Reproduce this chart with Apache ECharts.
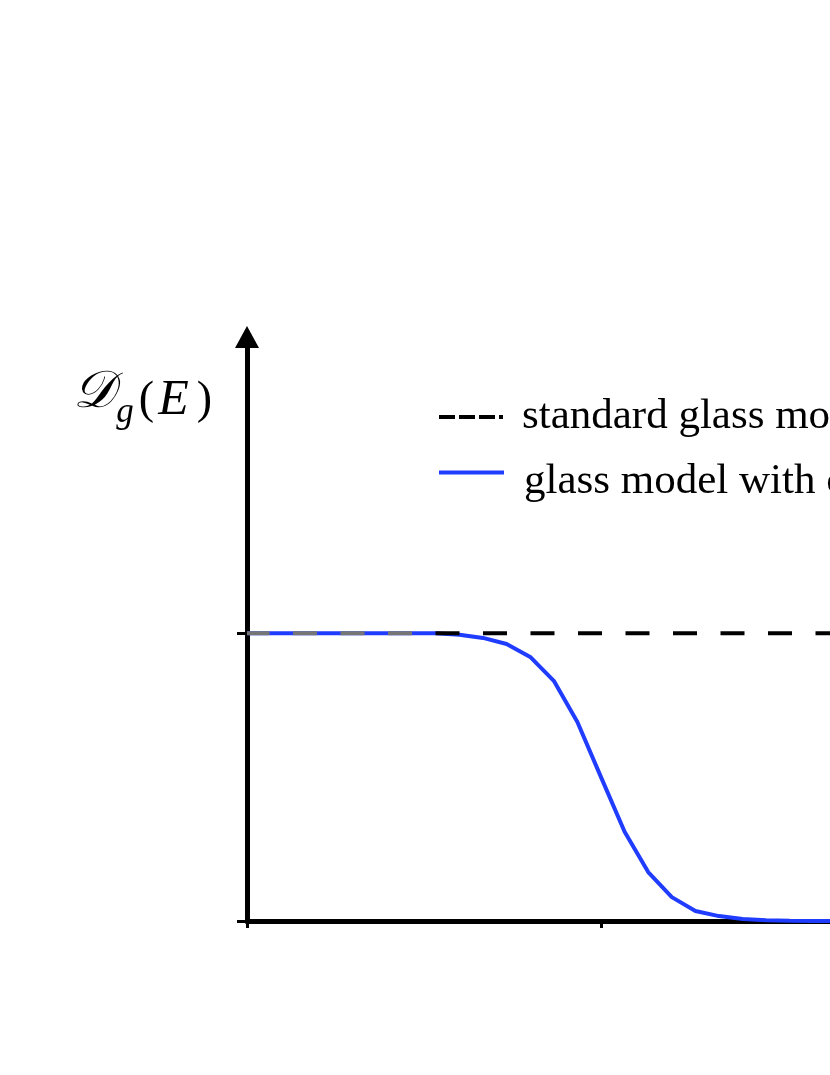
<!DOCTYPE html>
<html>
<head>
<meta charset="utf-8">
<script src="https://cdn.jsdelivr.net/npm/echarts@6/dist/echarts.min.js"></script>
<style>
html,body{margin:0;padding:0;background:#fff;overflow:hidden;width:830px;height:1075px;}
#chart{width:1100px;height:1075px;}
</style>
</head>
<body>
<div id="chart"></div>
<script>
// Energy grid (units where the tick at E = 1 marks the midpoint of the drop)
const energies = [0,0.0667,0.1333,0.2,0.2667,0.3333,0.4,0.4667,0.5333,0.6,0.6667,0.7333,0.8,0.8667,0.9333,1.0,1.0667,1.1333,1.2,1.2667,1.3333,1.4,1.4667,1.5333,1.6,1.6667,1.7333,1.8,1.8667,1.9333,2.0,2.0667,2.1333,2.2,2.25];
const glassWithCutoff = [1,1,1,1,1,1,1,1,1,0.995,0.984,0.963,0.918,0.835,0.692,0.5,0.31,0.17,0.083,0.035,0.017,0.007,0.003,0.001,0,0,0,0,0,0,0,0,0,0,0];
const standardGlassX = [0, 2.25];
const standardGlass = [1, 1];
const seriesNames = ['standard glass model', 'glass model with cutoff'];
const xTicks = [0, 1, 2];
const yTicks = [0, 1];

const chart = echarts.init(document.getElementById('chart'), null, {renderer: 'canvas'});
const serif = '"Liberation Serif", "DejaVu Serif", serif';
const BLUE = '#1f3cff';

const option = {
  animation: false,
  backgroundColor: '#fff',
  grid: {left: 247, right: 56.5, top: 337, bottom: 154},
  xAxis: {
    type: 'value', min: 0, max: 2.25,
    axisLine: {show: true, lineStyle: {color: '#000', width: 5}},
    axisTick: {show: true, customValues: xTicks, length: 7, lineStyle: {color: '#000', width: 3}},
    axisLabel: {show: false},
    splitLine: {show: false}
  },
  yAxis: {
    type: 'value', min: 0, max: 2.03,
    name: '{d|𝒟}{g|g}{p|(}{e|E}{p|)}',
    nameLocation: 'end',
    nameGap: -28,
    nameTextStyle: {
      align: 'right', verticalAlign: 'top', padding: [0, 35, 0, 0],
      rich: {
        d: {fontFamily: serif, fontStyle: 'italic', fontSize: 52, color: '#000', padding: [0, 2, 8, 0]},
        g: {fontFamily: serif, fontStyle: 'italic', fontSize: 35, color: '#000', padding: [30, 5, 0, 0]},
        p: {fontFamily: serif, fontSize: 46, color: '#000', padding: [6, 0, 0, 0]},
        e: {fontFamily: serif, fontStyle: 'italic', fontSize: 50, color: '#000', padding: [6, 8, 0, 4]}
      }
    },
    axisLine: {show: true, symbol: ['none', 'triangle'], symbolSize: [24, 22], lineStyle: {color: '#000', width: 5}},
    axisTick: {show: true, customValues: yTicks, length: 10, lineStyle: {color: '#000', width: 3}},
    axisLabel: {show: false},
    splitLine: {show: false}
  },
  legend: [
    {
      orient: 'vertical', left: 439, top: 395.5, padding: 0,
      itemWidth: 64, itemHeight: 4,
      data: [{
        name: seriesNames[0],
        icon: 'path://M0,0h16v4h-16z M20,0h16v4h-16z M40,0h16v4h-16z M60,0h4v4h-4z',
        itemStyle: {color: '#000', borderWidth: 0}
      }],
      textStyle: {fontFamily: serif, fontSize: 43, color: '#000', lineHeight: 40, padding: [0, 0, 0, 14]}
    },
    {
      orient: 'vertical', left: 439, top: 442, padding: 0,
      itemWidth: 65, itemHeight: 4,
      data: [{name: seriesNames[1], icon: 'rect', itemStyle: {color: BLUE, borderWidth: 0}}],
      formatter: '{t|{name}}',
      textStyle: {
        fontFamily: serif, fontSize: 43, color: '#000',
        rich: {t: {fontFamily: serif, fontSize: 43, color: '#000', lineHeight: 40, padding: [18, 0, 0, 15]}}
      }
    }
  ],
  series: [
    {
      name: seriesNames[1], type: 'line', z: 2,
      data: energies.map((e, i) => [e, glassWithCutoff[i]]),
      symbol: 'none', smooth: false,
      lineStyle: {color: BLUE, width: 4},
      itemStyle: {color: BLUE}
    },
    {
      name: seriesNames[0], type: 'line', z: 3,
      data: standardGlassX.map((e, i) => [e, standardGlass[i]]),
      symbol: 'none',
      lineStyle: {
        width: 4, type: [24, 23.5], dashOffset: 1.5,
        color: {type: 'linear', x: 0, y: 0, x2: 1, y2: 0, colorStops: [
          {offset: 0, color: '#767676'}, {offset: 0.222, color: '#767676'},
          {offset: 0.224, color: '#000'}, {offset: 1, color: '#000'}
        ]}
      },
      itemStyle: {color: '#000'}
    }
  ]
};
chart.setOption(option);
</script>
</body>
</html>
